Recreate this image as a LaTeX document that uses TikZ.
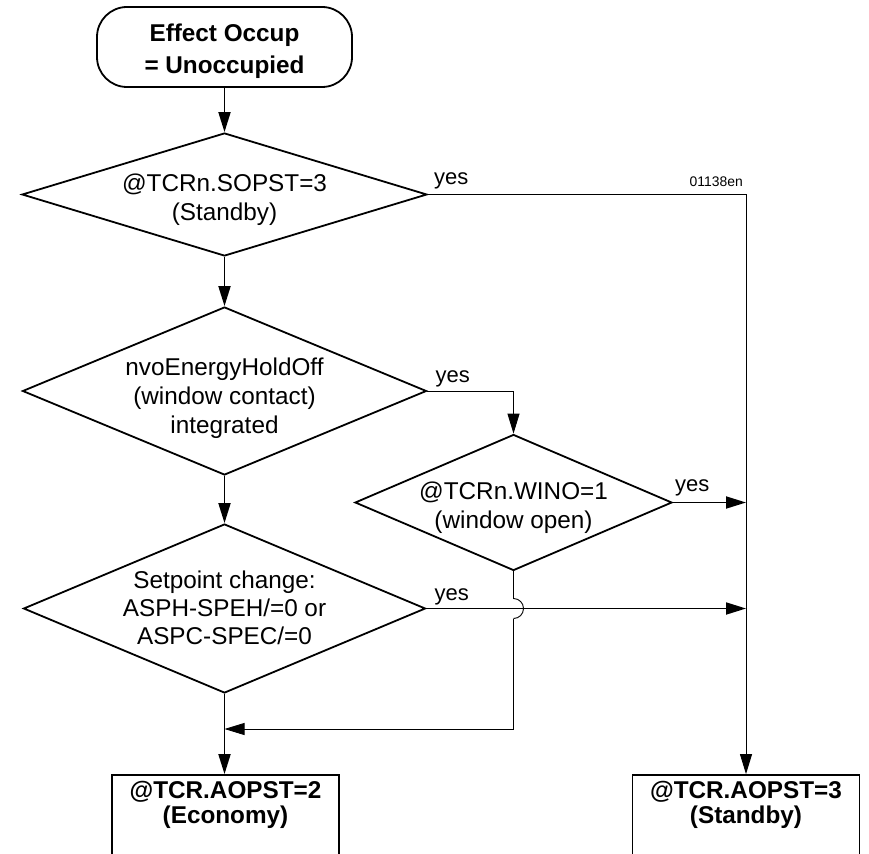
\documentclass[tikz,border=0pt]{standalone}
\usepackage{fontspec}
\setmainfont{Liberation Sans}
\usetikzlibrary{shapes.geometric,arrows.meta,calc}

% centred multi-line text of zero size, lowered by #1 below the node centre
\newcommand{\lines}[2][0pt]{\raisebox{\dimexpr-6.1pt-#1\relax}[0pt][0pt]{%
  \makebox[0pt]{\begin{tabular}{@{}c@{}}#2\end{tabular}}}}

\begin{document}
\begin{tikzpicture}[x=1pt,y=-1pt,
  font=\fontsize{24.3}{29}\selectfont,
  thickline/.style={line width=1.8pt},
  thinline/.style={line width=0.9pt},
  tip/.style={-{Triangle[length=20pt,width=12pt]}},
  startbox/.style={draw,thickline,rounded corners=30pt,minimum width=255pt,
    minimum height=80pt,inner sep=0pt,font=\bfseries\fontsize{24.3}{32}\selectfont},
  decision/.style={draw,thickline,diamond,inner sep=0pt,aspect=1},
  outbox/.style={draw,thickline,minimum width=227pt,minimum height=125pt,inner sep=0pt,
    font=\bfseries\fontsize{24.3}{25}\selectfont},
  yeslbl/.style={inner sep=0pt,anchor=base west,font=\fontsize{22}{26}\selectfont},
  codelbl/.style={inner sep=0pt,anchor=base east,font=\fontsize{13.9}{16}\selectfont}]

  \path[use as bounding box] (0,0) rectangle (869,853);
  \clip (0,0) rectangle (869,853);

  % start terminal
  \node[startbox] (start) at (224.5,47) {\lines[4.6pt]{Effect Occup\\= Unoccupied}};

  % decisions
  \node[decision,minimum width=405pt,minimum height=123pt] (d1) at (224.5,194.5)
    {\lines[5.4pt]{@TCRn.SOPST=3\\(Standby)}};
  \node[decision,minimum width=404pt,minimum height=168pt] (d2) at (224.5,391)
    {\lines[8.3pt]{nvoEnergyHoldOff\\(window contact)\\integrated}};
  \node[decision,minimum width=317pt,minimum height=136pt] (d3) at (513.5,502.5)
    {\lines[5.4pt]{@TCRn.WINO=1\\(window open)}};
  \node[decision,minimum width=402pt,minimum height=169pt,
    font=\fontsize{24.3}{28}\selectfont] (d4) at (224.5,608.5)
    {\lines[2.9pt]{Setpoint change:\\ASPH-SPEH/=0 or\\ASPC-SPEC/=0}};

  % resulting operating states (lower edges run off the sheet)
  \node[outbox] (econ) at (225.5,837.5) {\lines[-31pt]{@TCR.AOPST=2\\(Economy)}};
  \node[outbox] (stby) at (746,837.5) {\lines[-31pt]{@TCR.AOPST=3\\(Standby)}};

  % figure code
  \node[codelbl] (code) at (743,186) {01138en};

  % main column
  \draw[thickline,tip] (start.south) -- (d1.north);
  \draw[thickline,tip] (d1.south) -- (d2.north);
  \draw[thickline,tip] (d2.south) -- (d4.north);
  \draw[thickline,tip] (d4.south) -- (econ.north -| d4.south);

  % yes branches
  \draw[thinline,tip] (d1.east) -| (stby.north);
  \node[yeslbl] (y1) at ($(d1.east)+(6,-10)$) {yes};

  \draw[thinline,tip] (d2.east) -| (d3.north);
  \node[yeslbl] (y2) at ($(d2.east)+(8,-9)$) {yes};

  \draw[thickline,tip] (d3.east) -- (d3.east -| stby.north);
  \node[yeslbl] (y3) at ($(d3.east)+(2,-11)$) {yes};

  \draw[thickline,tip] (d4.east) -- (d4.east -| stby.north);
  \node[yeslbl] (y4) at ($(d4.east)+(8,-8)$) {yes};

  % "no" path of the window check, hopping over the setpoint branch
  \coordinate (hop) at (d3.south |- d4.east);
  \coordinate (ret) at (d4.south |- 0,729);
  \draw[thickline] (d3.south) -- ($(hop)+(0,-10)$);
  \draw[thinline] ($(hop)+(0,-10)$) arc[start angle=90,end angle=-90,radius=10pt];
  \draw[thinline,tip] ($(hop)+(0,10)$) |- (ret);
\end{tikzpicture}
\end{document}
